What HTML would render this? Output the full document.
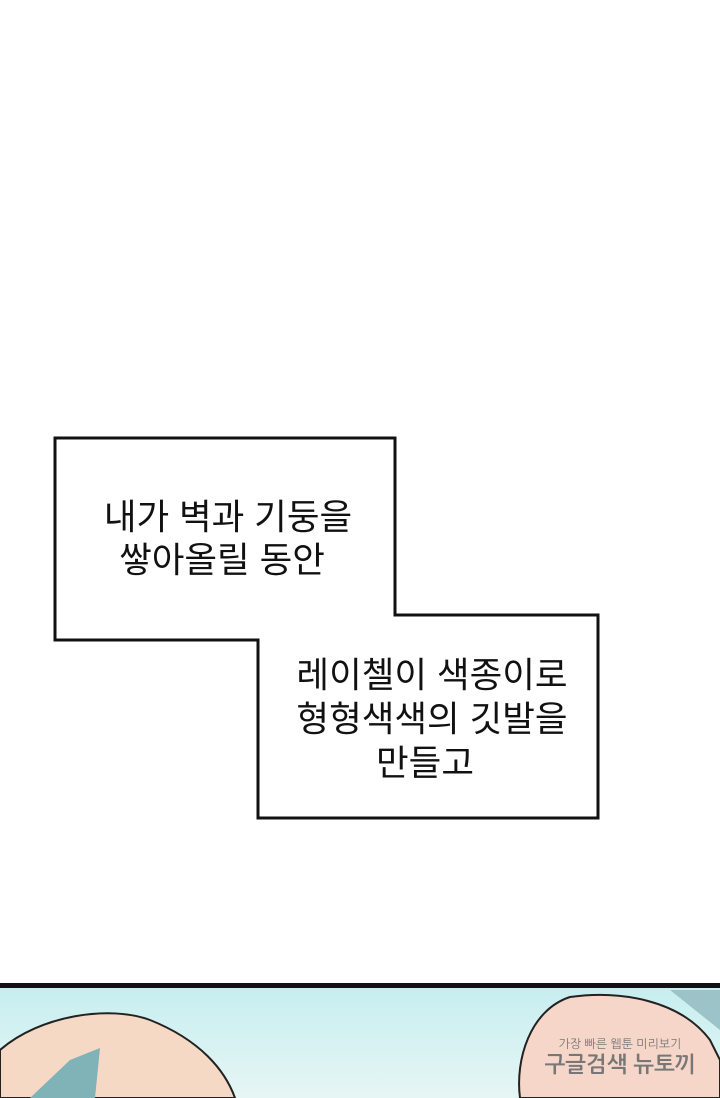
<!DOCTYPE html>
<html><head><meta charset="utf-8"><style>
html,body{margin:0;padding:0;background:#fff;}
body{width:720px;height:1098px;position:relative;overflow:hidden;}
svg{position:absolute;left:0;top:0;}
.t{font-family:"Liberation Sans","Noto Sans CJK KR","NanumGothic",sans-serif;font-size:35.5px;fill:#111;text-anchor:middle;}
</style></head><body>
<svg width="720" height="1098" viewBox="0 0 720 1098">
<defs>
<linearGradient id="bg" x1="0" y1="0" x2="0" y2="1">
<stop offset="0" stop-color="#c7eef0"/><stop offset="1" stop-color="#e6f6f4"/>
</linearGradient>
</defs>
<polygon points="55,438 395,438 395,615 598,615 598,818 258,818 258,640 55,640" fill="#fff" stroke="#111" stroke-width="3"/>
<text class="t" x="228" y="529">내가 벽과 기둥을</text>
<text class="t" x="222" y="572">쌓아올릴 동안</text>
<text class="t" x="432" y="687">레이첼이 색종이로</text>
<text class="t" x="432" y="731">형형색색의 깃발을</text>
<text class="t" x="425" y="775">만들고</text>
<rect x="0" y="988" width="720" height="110" fill="url(#bg)"/>
<rect x="0" y="983" width="720" height="5" fill="#111"/>
<path d="M0,1050 C40,1015 110,1005 150,1020 C200,1040 225,1070 235,1098 L0,1098 Z" fill="#f6d9c4" stroke="#222" stroke-width="2"/>
<path d="M30,1098 L70,1060 L100,1048 L95,1098 Z" fill="#7fb3b8"/>
<path d="M520,1098 C515,1060 530,1010 570,997 C620,990 680,1000 710,1040 L720,1060 L720,1098 Z" fill="#f6d6c8" stroke="#222" stroke-width="2"/>
<path d="M670,990 L720,990 L720,1030 Z" fill="#9bc3c8"/>
<g font-family="Liberation Sans,NanumGothic,sans-serif" fill="#777" text-anchor="middle">
<text x="620" y="1048" font-size="12">가장 빠른 웹툰 미리보기</text>
<text x="620" y="1072" font-size="22" font-weight="bold">구글검색 뉴토끼</text>
</g>
</svg>
</body></html>
